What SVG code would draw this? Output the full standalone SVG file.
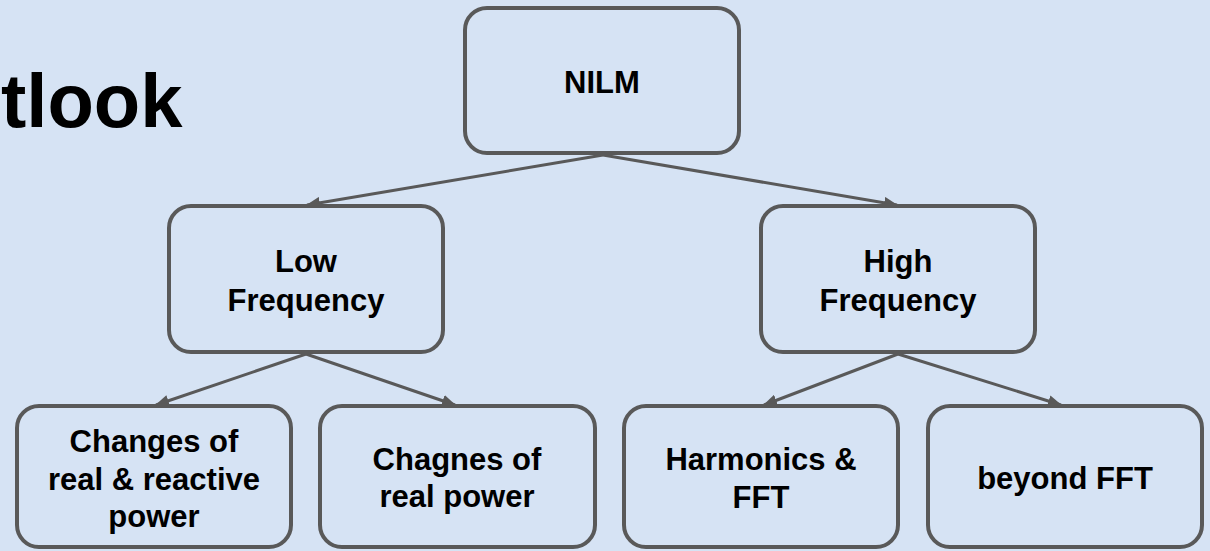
<svg xmlns="http://www.w3.org/2000/svg" width="1210" height="551" viewBox="0 0 1210 551">
<defs>
<style>
.bg{fill:#d6e3f4}
.box{fill:#d6e3f4;stroke:#595959;stroke-width:4}
.lbl{font-family:"Liberation Sans",Arial,sans-serif;font-weight:bold;font-size:31px;fill:#000;text-anchor:middle}
.title{font-family:"Liberation Sans",Arial,sans-serif;font-weight:bold;font-size:76px;fill:#000}
.edge{stroke:#595959;stroke-width:3;fill:none;marker-end:url(#arr)}
</style>
<marker id="arr" markerUnits="userSpaceOnUse" markerWidth="14" markerHeight="12" refX="13" refY="6" orient="auto" viewBox="0 0 14 12">
<path d="M0,0 L14,6 L0,12 z" fill="#595959"/>
</marker>
</defs>
<rect class="bg" x="0" y="0" width="1210" height="551"/>
<text class="title" x="1" y="127">tlook</text>
<g id="connectors">
<line class="edge" x1="603" y1="155" x2="307" y2="205"/>
<line class="edge" x1="603" y1="155" x2="897" y2="205"/>
<line class="edge" x1="306" y1="354" x2="156" y2="405"/>
<line class="edge" x1="306" y1="354" x2="455" y2="405"/>
<line class="edge" x1="898" y1="354" x2="764" y2="405"/>
<line class="edge" x1="898" y1="354" x2="1061" y2="405"/>
</g>
<g id="nilm">
<rect class="box" x="465" y="8" width="274" height="145" rx="22"/>
<text class="lbl" x="602" y="93">NILM</text>
</g>
<g id="low">
<rect class="box" x="169" y="206" width="274" height="146" rx="22"/>
<text class="lbl" x="306" y="272">Low</text>
<text class="lbl" x="306" y="311">Frequency</text>
</g>
<g id="high">
<rect class="box" x="761" y="206" width="274" height="146" rx="22"/>
<text class="lbl" x="898" y="272">High</text>
<text class="lbl" x="898" y="311">Frequency</text>
</g>
<g id="changes-real-reactive">
<rect class="box" x="17" y="406" width="274" height="141" rx="22"/>
<text class="lbl" x="154" y="452">Changes of</text>
<text class="lbl" x="154" y="490">real &amp; reactive</text>
<text class="lbl" x="154" y="527">power</text>
</g>
<g id="changes-real">
<rect class="box" x="320" y="406" width="275" height="141" rx="22"/>
<text class="lbl" x="457" y="470">Chagnes of</text>
<text class="lbl" x="457" y="507">real power</text>
</g>
<g id="harmonics">
<rect class="box" x="624" y="406" width="274" height="141" rx="22"/>
<text class="lbl" x="761" y="470">Harmonics &amp;</text>
<text class="lbl" x="761" y="508">FFT</text>
</g>
<g id="beyond">
<rect class="box" x="928" y="406" width="274" height="141" rx="22"/>
<text class="lbl" x="1065" y="489">beyond FFT</text>
</g>
</svg>
